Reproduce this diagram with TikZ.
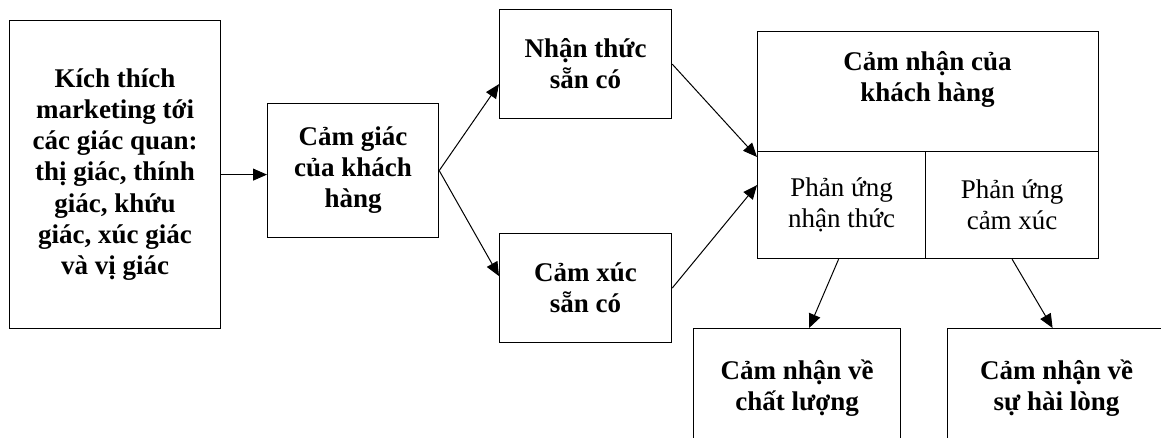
\documentclass[tikz,border=0pt]{standalone}
\usepackage{fontspec}
\setmainfont{Liberation Serif}
\usepackage{tikz}
\usetikzlibrary{arrows.meta}
\usetikzlibrary{calc}
\usetikzlibrary{positioning}

\tikzset{
  block/.style={draw, line width=1.2pt, align=center, inner sep=0pt,
    anchor=north west, font=\fontsize{27}{31}\selectfont\bfseries},
  resp/.style={block, font=\fontsize{27}{31}\selectfont},
  flow/.style={line width=1pt, -{Triangle[length=14pt, width=12pt]}}
}

\begin{document}
\begin{tikzpicture}[x=1pt, y=-1pt]

    \useasboundingbox (0, 0) rectangle (1161, 438);
    \clip (0, 0) rectangle (1161, 438);

    % left part
    \node[block, minimum width=211pt, minimum height=308pt] (stim) at (9, 20)
      {Kích thích\\ marketing tới\\ các giác quan:\\ thị giác, thính\\
       giác, khứu\\ giác, xúc giác\\ và vị giác};
    \node[block, minimum width=171pt, minimum height=134pt] (sense) at (267, 103)
      {Cảm giác\\ của khách\\ hàng};
    \node[block, minimum width=172pt, minimum height=109pt] (cog) at (499, 9)
      {Nhận thức\\ sẵn có};
    \node[block, minimum width=172pt, minimum height=109pt] (emo) at (499, 233)
      {Cảm xúc\\ sẵn có};

    % customer perception box
    \node[block, minimum width=341pt, minimum height=120pt] (perc) at (757, 31) {};
    \node[block, draw=none, anchor=center] (perctext) at (927.5, 79)
      {Cảm nhận của\\ khách hàng};
    \node[resp, minimum width=168pt, minimum height=107pt] (cogresp) at (757, 151)
      {Phản ứng\\ nhận thức};
    \node[resp, minimum width=173pt, minimum height=107pt] (emoresp) at (925, 151)
      {Phản ứng\\ cảm xúc};

    % outcomes
    \node[block, minimum width=207pt, minimum height=120pt] (qual) at (693, 328)
      {Cảm nhận về\\ chất lượng};
    \node[block, minimum width=218pt, minimum height=120pt] (sat) at (947, 328)
      {Cảm nhận về\\ sự hài lòng};

    \draw[flow] (stim.east) -- (stim.east -| sense.west);
    \draw[flow] (sense.east) -- ([yshift=-20pt]cog.west);
    \draw[flow] (sense.east) -- ([yshift=12pt]emo.west);
    \draw[flow] (cog.east) -- ([yshift=-6pt]cogresp.north west);
    \draw[flow] (emo.east) -- ([yshift=20pt]cogresp.west);
    \draw[flow] ([xshift=-3pt]cogresp.south) -- ([xshift=12pt]qual.north);
    \draw[flow] (emoresp.south) -- ([xshift=-4pt]sat.north);

\end{tikzpicture}
\end{document}
